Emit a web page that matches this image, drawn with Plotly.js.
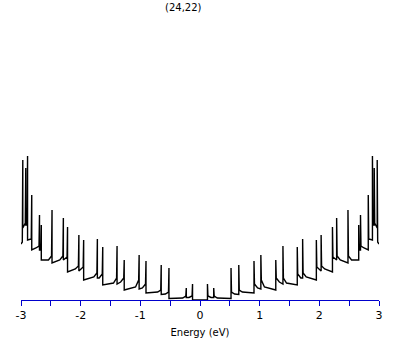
<!DOCTYPE html>
<html><head><meta charset="utf-8">
<script src="https://cdn.plot.ly/plotly-3.0.1.min.js"></script>
<style>html,body{margin:0;padding:0;background:#fff}#c{width:409px;height:345px}</style>
</head><body><div id="c"></div>
<script>
// Van Hove singularities (positive energies)
var posE     = [0.125, 0.23, 0.52, 0.65, 0.905, 1.02, 1.27, 1.39, 1.63, 1.72, 1.95, 2.03, 2.22, 2.29, 2.48, 2.66, 2.69, 2.82, 2.89, 2.92, 2.97];
var posFloor = [0,     2.5,  1.5,  5.5,  7,     11,   10,   16,   15,   22,   20,   29,   28,   40,   37,   40,   50,   50,   60,   75,   72];
var posPeak  = [16,    12,   32,   35,   39,    45,   40,   54,   53,   61,   60,   65,   73,   82,   90,   75,   85,   105,  144,  132,  140];
var posDrop  = [4,     4,    8,    10,   16,    20,   22,   22,   26,   27,   33,   34,   43,   44,   44,   50,   54,   61,   75,   77,   58];
var posKnee  = [2.5,   2,    6,    8,    12,    13,   18,   17,   22,   23,   30,   31,   39,   40,   40,   48,   52,   60,   75,   77,   57];
// negative energies
var negE     = [-0.125, -0.23, -0.52, -0.65, -0.905, -1.02, -1.27, -1.39, -1.63, -1.72, -1.95, -2.03, -2.22, -2.29, -2.48, -2.66, -2.69, -2.82, -2.89, -2.92, -2.97];
var negFloor = [0,     2.5,  1.5,  5.5,  7,     11,   10,   16,   15,   22,   20,   29,   28,   40,   37,   40,   50,   50,   60,   75,   72];
var negPeak  = [16,    12,   32,   35,   39,    45,   40,   54,   53,   61,   60,   65,   73,   82,   90,   75,   85,   105,  144,  132,  140];
var negDrop  = [4,     4,    8,    10,   16,    20,   22,   22,   26,   27,   33,   34,   43,   44,   44,   50,   54,   61,   75,   77,   58];
var negKnee  = [2.5,   2,    6,    8,    12,    13,   18,   17,   22,   23,   30,   31,   39,   40,   40,   48,   52,   60,   75,   77,   57];
var edgeE = [-3, 3];
var edgeD = [56, 56];
var tickVals = [-3,-2.5,-2,-1.5,-1,-0.5,0,0.5,1,1.5,2,2.5,3];
var tickText = ['-3','','-2','','-1','','0','','1','','2','','3'];

function branch(E, fl, pk, dr, kn, endE, endD) {
  var s = E[0] < 0 ? -1 : 1;
  var xs = [0], ys = [0];
  for (var i = 0; i < E.length; i++) {
    xs.push(E[i], E[i], E[i] + s * 0.008);
    ys.push(fl[i], pk[i], dr[i]);
    var nextE = i + 1 < E.length ? E[i + 1] : endE;
    if (Math.abs(nextE - E[i]) > 0.09) { xs.push(E[i] + s * 0.06); ys.push(kn[i]); }
  }
  xs.push(endE); ys.push(endD);
  return [xs, ys];
}
var L = branch(negE, negFloor, negPeak, negDrop, negKnee, edgeE[0], edgeD[0]);
var R = branch(posE, posFloor, posPeak, posDrop, posKnee, edgeE[1], edgeD[1]);
var x = L[0].slice().reverse().concat(R[0]);
var y = L[1].slice().reverse().concat(R[1]);

Plotly.newPlot('c', [{x: x, y: y, type: 'scatter', mode: 'lines',
  line: {color: '#000', width: 1.4}, hoverinfo: 'skip'}], {
  width: 409, height: 345,
  margin: {l: 21, r: 30, t: 20, b: 45},
  paper_bgcolor: '#fff', plot_bgcolor: '#fff',
  showlegend: false,
  font: {family: 'DejaVu Sans, sans-serif', size: 10, color: '#000'},
  xaxis: {range: [-3, 3], tickmode: 'array', tickvals: tickVals, ticktext: tickText,
    ticks: 'outside', ticklen: 5, tickcolor: '#0000cc', tickwidth: 1,
    showline: true, linecolor: '#0000cc', linewidth: 1, showgrid: false, zeroline: false,
    tickfont: {size: 11}, title: {text: 'Energy (eV)', font: {size: 10}, standoff: 7}},
  yaxis: {range: [0, 280], visible: false, showgrid: false, zeroline: false},
  annotations: [{text: '(24,22)', xref: 'paper', yref: 'paper', x: 0.455, y: 1,
    yshift: 20, showarrow: false, font: {size: 10}}]
}, {staticPlot: true});
</script></body></html>
